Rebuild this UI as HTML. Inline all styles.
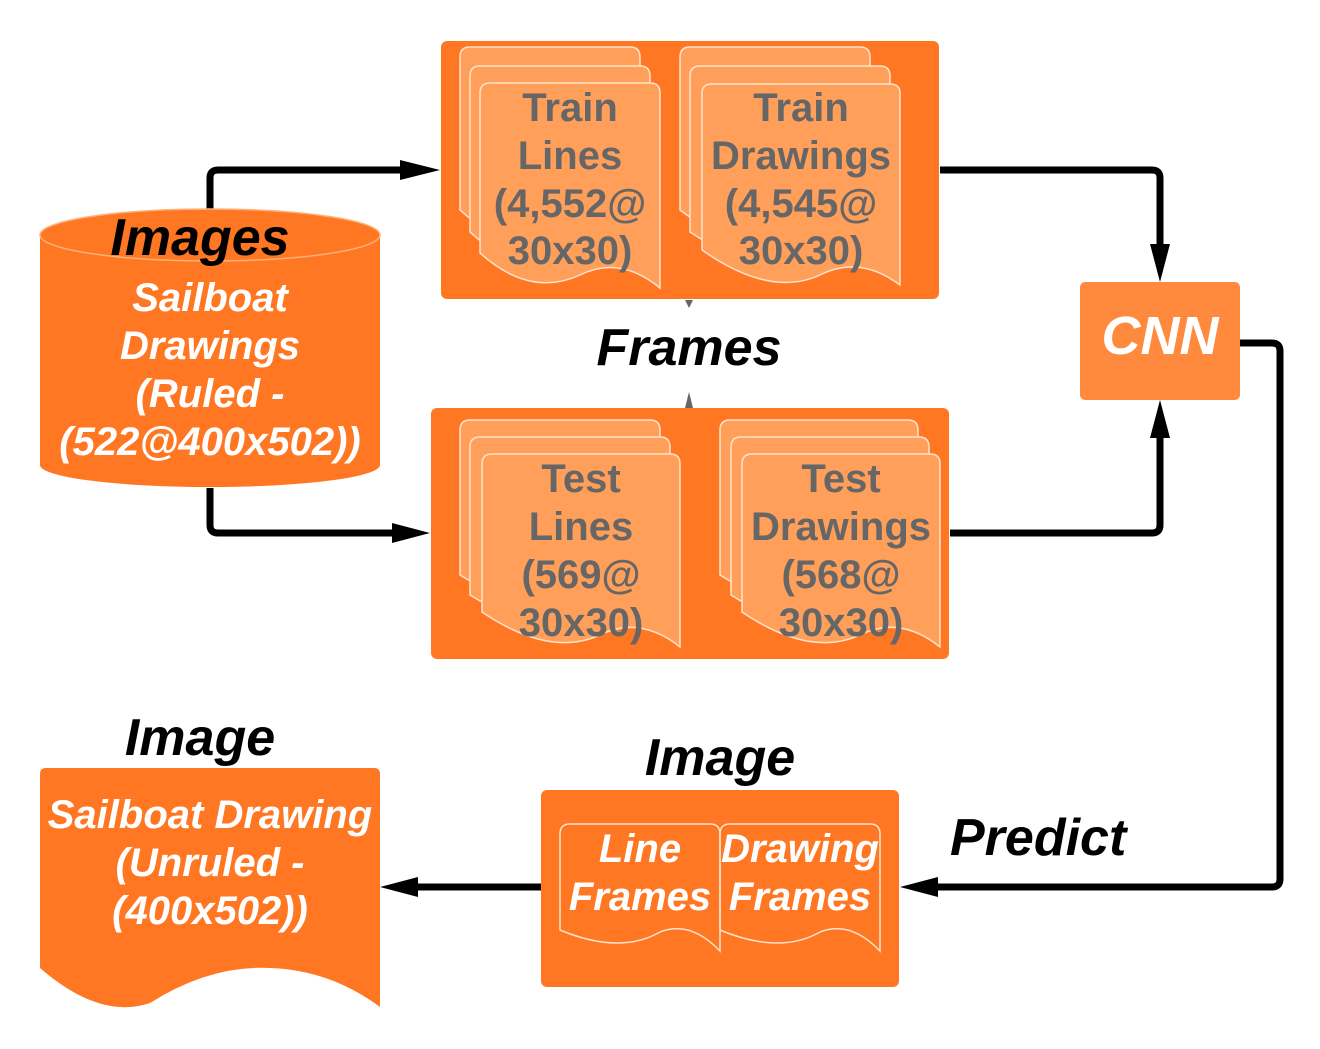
<!DOCTYPE html>
<html><head><style>body{margin:0;background:#fff}svg{display:block}</style></head><body>
<svg width="1320" height="1049" viewBox="0 0 1320 1049" xmlns="http://www.w3.org/2000/svg" font-family="Liberation Sans, sans-serif" font-weight="bold">
<g fill="none" stroke="#000" stroke-width="7" stroke-linejoin="round">
<path d="M210,210 V178 Q210,170 218,170 H418"/>
<path d="M400,160 L440,170 L400,180z" fill="#000" stroke="none"/>
<path d="M210,488 V525 Q210,533 218,533 H408"/>
<path d="M392,523 L430,533 L392,543z" fill="#000" stroke="none"/>
<path d="M940,170 H1152 Q1160,170 1160,178 V262"/>
<path d="M1150,244 L1160,282 L1170,244z" fill="#000" stroke="none"/>
<path d="M950,533 H1152 Q1160,533 1160,525 V420"/>
<path d="M1150,438 L1160,400 L1170,438z" fill="#000" stroke="none"/>
<path d="M1240,343 H1272 Q1280,343 1280,351 V879 Q1280,887 1272,887 H920"/>
<path d="M938,877 L900,887 L938,897z" fill="#000" stroke="none"/>
<path d="M541,887 H400"/>
<path d="M418,877 L380,887 L418,897z" fill="#000" stroke="none"/>
</g>
<path d="M40,235 V465 A170,22 0 0 0 380,465 V235z" fill="#FF7722"/>
<ellipse cx="210" cy="235" rx="170" ry="26" fill="#FF7722" stroke="#FFB07A" stroke-width="1.5"/>
<text x="200" y="255" font-size="52" font-style="italic" text-anchor="middle" fill="#000">Images</text>
<g fill="#fff" font-size="40" font-style="italic" text-anchor="middle">
<text x="210" y="311">Sailboat</text><text x="210" y="359">Drawings</text><text x="210" y="407">(Ruled -</text><text x="210" y="455">(522@400x502))</text></g>
<rect x="441" y="41" width="498" height="258" rx="6" fill="#FF7722"/>
<g fill="#FF9F5A" stroke="#FFE3CC" stroke-width="1.5">
<path d="M460,57 Q460,47 470,47 H630 Q640,47 640,57 V230 Q600,215 560,235 Q510,255 460,210z"/>
<path d="M470,76 Q470,66 480,66 H640 Q650,66 650,76 V259 Q610,240 570,258 Q520,278 470,232z"/>
<path d="M480,93 Q480,83 490,83 H650 Q660,83 660,93 V288 Q620,255 580,275 Q530,298 480,253z"/>
<path d="M680,57 Q680,47 690,47 H860 Q870,47 870,57 V230 Q830,215 790,235 Q740,255 680,210z"/>
<path d="M690,76 Q690,66 700,66 H880 Q890,66 890,76 V259 Q850,240 810,258 Q760,278 690,232z"/>
<path d="M702,93 Q702,84 712,84 H890 Q900,84 900,93 V285 Q860,255 820,275 Q770,298 702,250z"/>
</g>
<g fill="#666" font-size="40" text-anchor="middle">
<text x="570" y="121">Train</text><text x="570" y="169">Lines</text><text x="570" y="217">(4,552@</text><text x="570" y="264">30x30)</text>
<text x="801" y="121">Train</text><text x="801" y="169">Drawings</text><text x="801" y="217">(4,545@</text><text x="801" y="264">30x30)</text></g>
<path d="M685,300 L693,300 L689,308z M685,408 L693,408 L689,392z" fill="#666"/>
<text x="689" y="365" font-size="52" font-style="italic" text-anchor="middle" fill="#000">Frames</text>
<rect x="431" y="408" width="518" height="251" rx="6" fill="#FF7722"/>
<g fill="#FF9F5A" stroke="#FFE3CC" stroke-width="1.5">
<path d="M460,430 Q460,420 470,420 H650 Q660,420 660,430 V595 Q620,580 580,598 Q530,618 460,575z"/>
<path d="M470,447 Q470,437 480,437 H660 Q670,437 670,447 V620 Q630,600 590,618 Q540,638 470,595z"/>
<path d="M482,464 Q482,454 492,454 H670 Q680,454 680,464 V647 Q640,615 600,635 Q550,658 482,612z"/>
<path d="M720,430 Q720,420 730,420 H908 Q918,420 918,430 V595 Q878,580 838,598 Q788,618 720,575z"/>
<path d="M731,447 Q731,437 741,437 H919 Q929,437 929,447 V620 Q889,600 849,618 Q799,638 731,595z"/>
<path d="M742,464 Q742,454 752,454 H930 Q940,454 940,464 V647 Q900,615 860,635 Q810,658 742,612z"/>
</g>
<g fill="#666" font-size="40" text-anchor="middle">
<text x="581" y="492">Test</text><text x="581" y="540">Lines</text><text x="581" y="588">(569@</text><text x="581" y="636">30x30)</text>
<text x="841" y="492">Test</text><text x="841" y="540">Drawings</text><text x="841" y="588">(568@</text><text x="841" y="636">30x30)</text></g>
<rect x="1080" y="282" width="160" height="118" rx="5" fill="#FF8A3D"/>
<text x="1160" y="354" font-size="54" font-style="italic" text-anchor="middle" fill="#fff">CNN</text>
<text x="950" y="855" font-size="52" font-style="italic" fill="#000">Predict</text>
<text x="720" y="775" font-size="52" font-style="italic" text-anchor="middle" fill="#000">Image</text>
<rect x="541" y="790" width="358" height="197" rx="6" fill="#FF7722"/>
<g fill="none" stroke="#FFE3CC" stroke-width="1.5">
<path d="M560,834 Q560,824 570,824 H710 Q720,824 720,834 V951 Q690,920 660,932 Q620,955 560,930z"/>
<path d="M720,834 Q720,824 730,824 H870 Q880,824 880,834 V951 Q850,920 820,932 Q780,955 720,930z"/>
</g>
<g fill="#fff" font-size="40" font-style="italic" text-anchor="middle">
<text x="640" y="862">Line</text><text x="640" y="910">Frames</text>
<text x="800" y="862">Drawing</text><text x="800" y="910">Frames</text></g>
<text x="200" y="755" font-size="52" font-style="italic" text-anchor="middle" fill="#000">Image</text>
<path d="M40,774 Q40,768 46,768 H374 Q380,768 380,774 V1007 Q330,970 270,968 Q210,965 150,1003 Q100,1020 40,968z" fill="#FF7722"/>
<g fill="#fff" font-size="40" font-style="italic" text-anchor="middle">
<text x="210" y="828">Sailboat Drawing</text><text x="210" y="876">(Unruled -</text><text x="210" y="924">(400x502))</text></g>
</svg>
</body></html>
